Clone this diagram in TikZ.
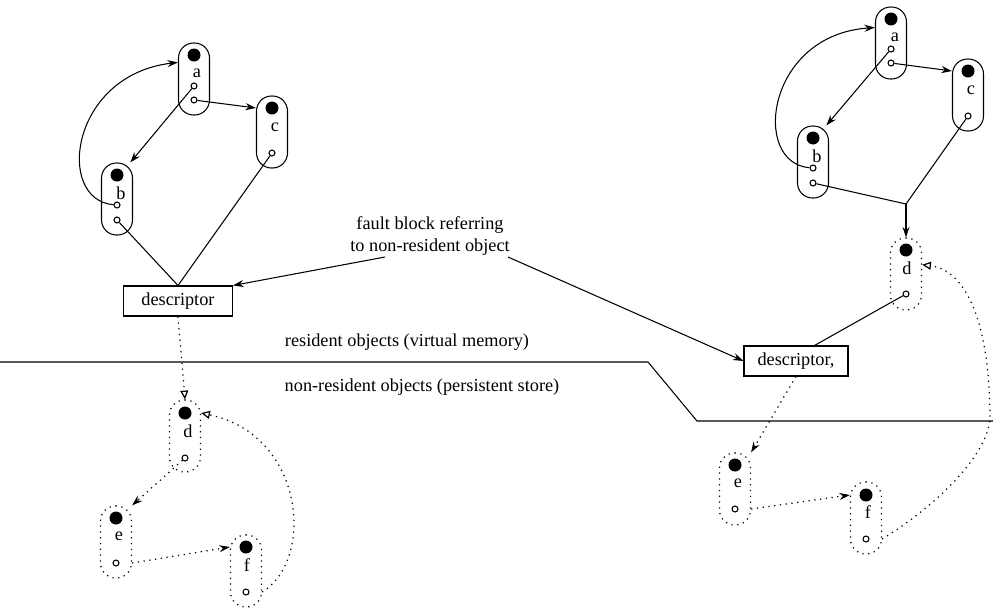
\documentclass[tikz,border=0pt]{standalone}
\usepackage{fontspec}
\setmainfont{Liberation Serif}
\usetikzlibrary{arrows.meta, calc}
\tikzset{
  objbox/.style={rectangle, draw, line width=0.6pt, minimum width=0.62cm,
    minimum height=1.44cm, rounded corners=0.3cm, inner sep=0pt},
  ghostbox/.style={objbox, line width=0.7pt, dash pattern=on 0.7pt off 2.6pt},
  bigdot/.style={circle, fill=black, minimum size=0.26cm, inner sep=0pt},
  ptr/.style={circle, draw, fill=white, line width=0.6pt, minimum size=0.12cm, inner sep=0pt},
  objlbl/.style={inner sep=0pt},
  descbox/.style={rectangle, draw, line width=0.6pt, minimum height=0.6cm, inner sep=2pt},
  arrow/.style={-{Stealth[length=6pt,width=4pt]}, line width=0.6pt},
  dotarrow/.style={-{Stealth[length=6pt,width=4pt]}, line width=0.7pt, dash pattern=on 0.7pt off 2.6pt},
  openarrow/.style={-{Triangle[open,length=5pt,width=4.5pt]}, line width=0.7pt, dash pattern=on 0.7pt off 2.6pt},
  line/.style={line width=0.6pt}
}

\begin{document}
\begin{tikzpicture}[x=0.02cm, y=-0.02cm, font=\fontsize{10.4}{12.5}\selectfont]
  \useasboundingbox (0,0) rectangle (993,609);

  % Left: resident objects a, b, c
  \node[objbox] (La) at (194,79) {};
  \node[bigdot] (Lad) at (194,55) {};
  \node[objlbl] (Lal) at (197,73) {a};
  \node[ptr] (La1) at (194,86) {};
  \node[ptr] (La2) at (194,100) {};

  \node[objbox] (Lc) at (272,132) {};
  \node[bigdot] (Lcd) at (272,108) {};
  \node[objlbl] (Lcl) at (275,127) {c};
  \node[ptr] (Lc1) at (272,153) {};

  \node[objbox] (Lb) at (117,199) {};
  \node[bigdot] (Lbd) at (117,175) {};
  \node[objlbl] (Lbl) at (121,193) {b};
  \node[ptr] (Lb1) at (117,205) {};
  \node[ptr] (Lb2) at (117,220) {};

  \node[descbox, minimum width=2.18cm] (Ldesc) at (178,301) {descriptor};

  \draw[arrow] (La1) -- (Lb.70);
  \draw[arrow] (La2) -- (Lc.west |- Lcd);
  \draw[arrow] (Lb1) .. controls (55,200) and (70,75) .. (La.134);
  \draw[line] (Lb2) -- (Ldesc.north);
  \draw[line] (Lc1) -- (Ldesc.north);

  % Left: non-resident objects d, e, f
  \node[ghostbox] (Ld) at (185,436) {};
  \node[bigdot] (Ldd) at (185,413) {};
  \node[objlbl] (Ldl) at (188,431) {d};
  \node[ptr] (Ld1) at (185,458) {};

  \node[ghostbox] (Le) at (116,542) {};
  \node[bigdot] (Led) at (116,518) {};
  \node[objlbl] (Lel) at (119,536) {e};
  \node[ptr] (Le1) at (116,563) {};

  \node[ghostbox] (Lf) at (246,571) {};
  \node[bigdot] (Lfd) at (246,547) {};
  \node[objlbl] (Lfl) at (247,565) {f};
  \node[ptr] (Lf1) at (246,592) {};

  \draw[openarrow] (Ldesc.south) -- (Ld.north);
  \draw[dotarrow] (Ld1) -- (Le.north east);
  \draw[dotarrow] (Le.east |- Le1) -- (Lf.west |- Lfd);
  \draw[openarrow] (Lf.east |- Lf1) .. controls (315,560) and (305,435) .. (Ld.east |- Ldd);

  % Right: resident objects a, b, c
  \node[objbox] (Ra) at (891,43) {};
  \node[bigdot] (Rad) at (891,19) {};
  \node[objlbl] (Ral) at (895,37) {a};
  \node[ptr] (Ra1) at (891,49) {};
  \node[ptr] (Ra2) at (891,63) {};

  \node[objbox] (Rc) at (968,95) {};
  \node[bigdot] (Rcd) at (968,71) {};
  \node[objlbl] (Rcl) at (971,90) {c};
  \node[ptr] (Rc1) at (968,116) {};

  \node[objbox] (Rb) at (813,162) {};
  \node[bigdot] (Rbd) at (813,138) {};
  \node[objlbl] (Rbl) at (817,156) {b};
  \node[ptr] (Rb1) at (813,168) {};
  \node[ptr] (Rb2) at (813,183) {};

  \coordinate (Rj) at (906,204);

  \draw[arrow] (Ra1) -- (Rb.70);
  \draw[arrow] (Ra2) -- (Rc.west |- Rcd);
  \draw[arrow] (Rb1) .. controls (751,163) and (766,35) .. (Ra.136);
  \draw[line] (Rb2) -- (Rj);
  \draw[line] (Rc1) -- (Rj);

  % Right: faulted-in d, non-resident e, f
  \node[ghostbox] (Rd) at (906,274) {};
  \node[bigdot] (Rdd) at (906,250) {};
  \node[objlbl] (Rdl) at (907,268) {d};
  \node[ptr] (Rd1) at (906,294) {};

  \node[descbox, minimum width=2.08cm] (Rdesc) at (796,361) {descriptor,};

  \draw[arrow] (Rj) -- (Rd.north);
  \draw[line] (Rd1) -- (Rdesc.40);

  \node[ghostbox] (Re) at (735,489) {};
  \node[bigdot] (Red) at (735,465) {};
  \node[objlbl] (Rel) at (738,483) {e};
  \node[ptr] (Re1) at (735,509) {};

  \node[ghostbox] (Rf) at (866,518) {};
  \node[bigdot] (Rfd) at (866,495) {};
  \node[objlbl] (Rfl) at (868,512) {f};
  \node[ptr] (Rf1) at (866,539) {};

  \draw[dotarrow] (Rdesc.south) -- (Re.north east);
  \draw[dotarrow] (Re.east |- Re1) -- (Rf.west |- Rfd);
  \draw[openarrow] (Rf.east |- Rf1) .. controls (930,510) and (985,460) .. (990,420)
    .. controls (990,320) and (965,270) .. (Rd.30);

  % Fault block label
  \node[align=center, inner sep=0pt] (fault) at (430,236) {fault block referring\\to non-resident object};
  \coordinate (faultL) at (385,257);
  \coordinate (faultR) at (508,257);
  \draw[arrow] (faultL) -- (Ldesc.north east);
  \draw[arrow] (faultR) -- (Rdesc.west);

  % Boundary between resident and non-resident objects
  \draw[line] (0,362) -- (648,362) -- (697,421) -- (993,421);
  \node[inner sep=0pt] (res) at (407,342) {resident objects (virtual memory)};
  \node[inner sep=0pt] (nonres) at (422,387) {non-resident objects (persistent store)};
\end{tikzpicture}
\end{document}
